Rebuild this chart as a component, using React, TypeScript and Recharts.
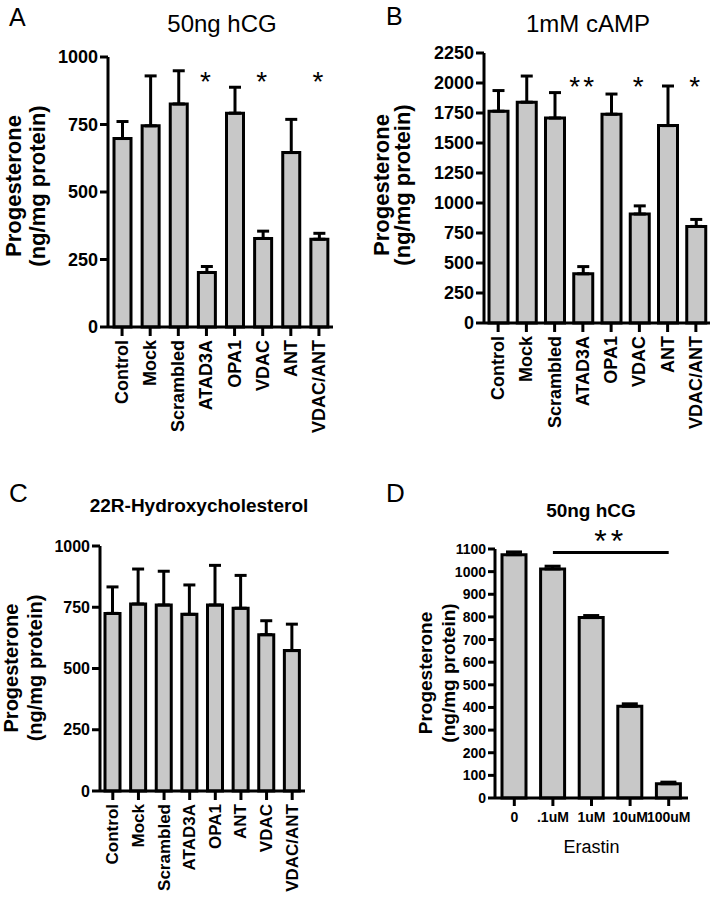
import { BarChart, Bar, XAxis, YAxis, ErrorBar, LabelList, ReferenceLine } from 'recharts'

const FONT = '"Liberation Sans", Arial, Helvetica, sans-serif'
const BAR_FILL = '#c8c8c8'

// A and B share the knockdown list
const knockdowns = ['Control', 'Mock', 'Scrambled', 'ATAD3A', 'OPA1', 'VDAC', 'ANT', 'VDAC/ANT']

const hcgMeans = [698, 745, 826, 202, 792, 328, 646, 325]
const hcgErrors = [63, 185, 123, 22, 96, 27, 123, 22]
const hcgSig = ['', '', '', '*', '', '*', '', '*']

const campMeans = [1765, 1840, 1708, 410, 1740, 908, 1645, 805]
const campErrors = [172, 218, 212, 60, 168, 68, 330, 58]
const campSig = ['', '', '', '**', '', '*', '', '*']

// C uses a different order
const hydroxyGroups = ['Control', 'Mock', 'Scrambled', 'ATAD3A', 'OPA1', 'ANT', 'VDAC', 'VDAC/ANT']
const hydroxyMeans = [725, 763, 759, 721, 759, 746, 638, 573]
const hydroxyErrors = [108, 143, 138, 120, 162, 134, 57, 108]

const erastinDoses = ['0', '.1uM', '1uM', '10uM', '100uM']
const erastinMeans = [1075, 1012, 797, 405, 63]
const erastinErrors = [12, 12, 9, 11, 7]

const ticksA = [0, 250, 500, 750, 1000]
const ticksB = [0, 250, 500, 750, 1000, 1250, 1500, 1750, 2000, 2250]
const ticksD = [0, 100, 200, 300, 400, 500, 600, 700, 800, 900, 1000, 1100]

const toRows = (names: string[], means: number[], errs: number[], sig?: string[]) =>
  names.map((name, i) => ({ name, value: means[i], err: [0, errs[i]], sig: sig ? sig[i] : '' }))

const axisStroke = { stroke: '#000', strokeWidth: 3 }

function yLabel(x1: number, x2: number, cy: number, size: number, bold: boolean) {
  return () => (
    <g fontFamily={FONT} fontSize={size} fontWeight={bold ? 'bold' : 'normal'} fill="#000">
      <text x={x1} y={cy} transform={`rotate(-90, ${x1}, ${cy})`} textAnchor="middle" dominantBaseline="central">
        Progesterone
      </text>
      <text x={x2} y={cy} transform={`rotate(-90, ${x2}, ${cy})`} textAnchor="middle" dominantBaseline="central">
        (ng/mg protein)
      </text>
    </g>
  )
}

function rotatedTick(size: number) {
  return (p: any) => (
    <text
      x={p.x}
      y={p.y}
      transform={`rotate(-90, ${p.x}, ${p.y})`}
      textAnchor="end"
      dominantBaseline="central"
      fontFamily={FONT}
      fontSize={size}
      fontWeight="bold"
      fill="#000"
    >
      {p.payload.value}
    </text>
  )
}

function stars(y: number, size: number) {
  return (p: any) =>
    p.value ? (
      <text
        x={p.x + p.width / 2}
        y={y}
        textAnchor="middle"
        fontFamily={FONT}
        fontSize={size}
        letterSpacing={3}
        fill="#000"
      >
        {p.value}
      </text>
    ) : null
}

interface PanelProps {
  left: number
  top: number
  width: number
  height: number
  margin: { top: number; right: number; bottom: number; left: number }
  yWidth: number
  xHeight: number
  data: any[]
  ticks: number[]
  tickSize: number
  xTickSize: number
  label: () => any
  barSize: number
  cap: number
  starY?: number
}

function KnockdownPanel(props: PanelProps) {
  const { ticks } = props
  return (
    <div style={{ position: 'absolute', left: props.left, top: props.top }}>
      <BarChart width={props.width} height={props.height} data={props.data} margin={props.margin}>
        <XAxis
          dataKey="name"
          interval={0}
          height={props.xHeight}
          axisLine={axisStroke}
          tickLine={axisStroke}
          tickSize={9}
          tickMargin={4}
          tick={rotatedTick(props.xTickSize)}
        />
        <YAxis
          width={props.yWidth}
          domain={[ticks[0], ticks[ticks.length - 1]]}
          ticks={ticks}
          interval={0}
          axisLine={axisStroke}
          tickLine={axisStroke}
          tickSize={8}
          tickMargin={2}
          tick={{ fill: '#000', fontSize: props.tickSize, fontWeight: 'bold', fontFamily: FONT }}
          label={props.label}
        />
        <Bar
          dataKey="value"
          barSize={props.barSize}
          fill={BAR_FILL}
          stroke="#000"
          strokeWidth={3}
          isAnimationActive={false}
        >
          {/* ErrorBar width is the half-width of the cap */}
          <ErrorBar dataKey="err" width={props.cap} stroke="#000" strokeWidth={3} direction="y" isAnimationActive={false} />
          {props.starY !== undefined && <LabelList dataKey="sig" content={stars(props.starY, 28)} />}
        </Bar>
      </BarChart>
    </div>
  )
}

export default function App() {
  const rowsA = toRows(knockdowns, hcgMeans, hcgErrors, hcgSig)
  const rowsB = toRows(knockdowns, campMeans, campErrors, campSig)
  const rowsC = toRows(hydroxyGroups, hydroxyMeans, hydroxyErrors)
  const rowsD = toRows(erastinDoses, erastinMeans, erastinErrors)

  return (
    <div style={{ position: 'absolute', left: 0, top: 0, width: 712, height: 900, background: '#fff', fontFamily: FONT }}>
      <KnockdownPanel
        left={0}
        top={0}
        width={356}
        height={470}
        margin={{ top: 57, right: 23, bottom: 10, left: 50 }}
        yWidth={58}
        xHeight={133}
        data={rowsA}
        ticks={ticksA}
        tickSize={18}
        xTickSize={18}
        label={yLabel(13, 37, 186, 22, true)}
        barSize={17}
        cap={6}
        starY={91}
      />
      <KnockdownPanel
        left={360}
        top={0}
        width={352}
        height={470}
        margin={{ top: 53, right: 2, bottom: 14, left: 60 }}
        yWidth={64}
        xHeight={133}
        data={rowsB}
        ticks={ticksB}
        tickSize={18}
        xTickSize={18}
        label={yLabel(21, 42, 185, 22, true)}
        barSize={19}
        cap={6}
        starY={96}
      />
      <KnockdownPanel
        left={0}
        top={450}
        width={356}
        height={450}
        margin={{ top: 96, right: 51, bottom: 0, left: 50 }}
        yWidth={50}
        xHeight={109}
        data={rowsC}
        ticks={ticksA}
        tickSize={16}
        xTickSize={17}
        label={yLabel(11, 35, 218, 20, true)}
        barSize={15}
        cap={6}
      />

      <div style={{ position: 'absolute', left: 360, top: 450 }}>
        <BarChart width={352} height={450} data={rowsD} margin={{ top: 99, right: 24, bottom: 12, left: 95 }}>
          <XAxis
            dataKey="name"
            interval={0}
            height={90}
            axisLine={axisStroke}
            tickLine={axisStroke}
            tickSize={8}
            tickMargin={6}
            tick={{ fill: '#000', fontSize: 14, fontWeight: 'bold', fontFamily: FONT }}
            label={(p: any) => (
              <text
                x={p.viewBox.x + p.viewBox.width / 2}
                y={397}
                textAnchor="middle"
                dominantBaseline="central"
                fontFamily={FONT}
                fontSize={18}
                fill="#000"
              >
                Erastin
              </text>
            )}
          />
          <YAxis
            width={40}
            domain={[0, 1100]}
            ticks={ticksD}
            interval={0}
            axisLine={axisStroke}
            tickLine={axisStroke}
            tickSize={7}
            tickMargin={2}
            tick={{ fill: '#000', fontSize: 14, fontWeight: 'bold', fontFamily: FONT }}
            label={yLabel(65, 88, 223, 19, true)}
          />
          <Bar dataKey="value" barSize={24} fill={BAR_FILL} stroke="#000" strokeWidth={3} isAnimationActive={false}>
            <ErrorBar dataKey="err" width={8} stroke="#000" strokeWidth={3} direction="y" isAnimationActive={false} />
          </Bar>
          <ReferenceLine
            segment={[{ x: '.1uM', y: 1085 }, { x: '100uM', y: 1085 }]}
            stroke="#000"
            strokeWidth={3}
            ifOverflow="visible"
            label={{ value: '**', position: 'top', offset: 0, fontSize: 32, fill: '#000', fontFamily: FONT, letterSpacing: 4 }}
          />
        </BarChart>
      </div>

      <svg width={712} height={900} style={{ position: 'absolute', left: 0, top: 0, pointerEvents: 'none' }} fontFamily={FONT}>
        <text x={9} y={26} fontSize={25} fill="#000">A</text>
        <text x={222} y={32} fontSize={24} textAnchor="middle" fill="#000">50ng hCG</text>
        <text x={386} y={25} fontSize={25} fill="#000">B</text>
        <text x={588} y={32} fontSize={24} textAnchor="middle" fill="#000">1mM cAMP</text>
        <text x={9} y={502} fontSize={26} fill="#000">C</text>
        <text x={199} y={512} fontSize={19} fontWeight="bold" textAnchor="middle" fill="#000">22R-Hydroxycholesterol</text>
        <text x={386} y={502} fontSize={26} fill="#000">D</text>
        <text x={591} y={517} fontSize={19} fontWeight="bold" textAnchor="middle" fill="#000">50ng hCG</text>
      </svg>
    </div>
  )
}
